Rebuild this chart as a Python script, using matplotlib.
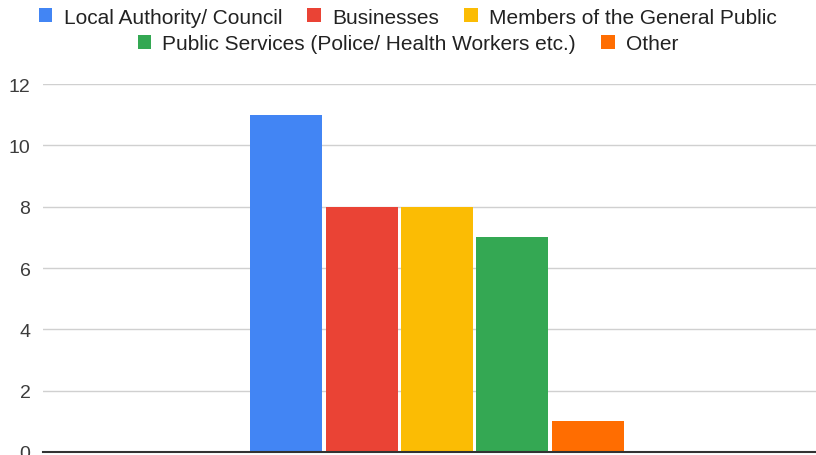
import matplotlib
matplotlib.use("Agg")
import matplotlib.pyplot as plt

series = ["Local Authority/ Council", "Businesses", "Members of the General Public",
          "Public Services (Police/ Health Workers etc.)", "Other"]
values = [11, 8, 8, 7, 1]
colors = ["#4285F4", "#EA4335", "#FBBC04", "#34A853", "#FF6D01"]
yticks = [0, 2, 4, 6, 8, 10, 12]

plt.rcParams['font.family'] = ['Liberation Sans', 'DejaVu Sans']

W, H = 816, 456
fig = plt.figure(figsize=(W / 100, H / 100), dpi=100)
ax = fig.add_axes([43 / W, 3 / H, (W - 43) / W, (453 - 85) / H])

handles = []
for i, (name, v, c) in enumerate(zip(series, values, colors)):
    b = ax.bar(i, v, width=0.955, color=c, label=name, zorder=3)
    handles.append(b)

ax.set_xlim(-3.23, 7.03)
ax.set_ylim(0, 12)
ax.set_yticks(yticks)
ax.set_yticklabels([str(t) for t in yticks])
ax.set_xticks([])
ax.tick_params(axis='y', length=0, pad=9, labelsize=14, labelcolor="#3c3c3c")
ax.grid(axis='y', color="#d0d0d0", linewidth=1, zorder=0)
for s in ["top", "right", "left"]:
    ax.spines[s].set_visible(False)
ax.spines["bottom"].set_color("#333333")
ax.spines["bottom"].set_linewidth(1.5)
ax.spines["bottom"].set_zorder(4)

common = dict(frameon=False, fontsize=15, handlelength=0.65, handleheight=0.65,
              handletextpad=0.55, columnspacing=1.2, labelcolor="#222222",
              borderaxespad=0, borderpad=0)
leg1 = fig.legend(handles[:3], series[:3], ncol=3, loc="center",
                  bbox_to_anchor=(0.5, 1 - 18 / H), **common)
leg2 = fig.legend(handles[3:], series[3:], ncol=2, loc="center",
                  bbox_to_anchor=(0.5, 1 - 45 / H), **common)

fig.savefig("out.png", dpi=100, facecolor="white")
